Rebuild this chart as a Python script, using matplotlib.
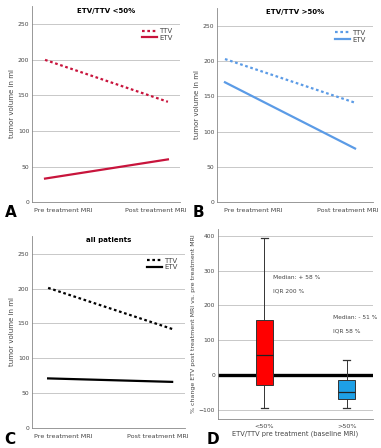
import matplotlib.pyplot as plt

# line panels: pre / post treatment tumor volume (ml)
timepoints = ['Pre treatment MRI', 'Post treatment MRI']
ttv_low = [200, 141]
etv_low = [33, 60]
ttv_high = [203, 141]
etv_high = [170, 76]
ttv_all = [201, 142]
etv_all = [71, 66]

# box panel: % change ETV
groups = ['<50%', '>50%']
box_low = dict(whislo=-95, q1=-30, med=58, q3=158, whishi=395)
box_high = dict(whislo=-95, q1=-68, med=-50, q3=-15, whishi=43)
notes_low = ['Median: + 58 %', 'IQR 200 %']
notes_high = ['Median: - 51 %', 'IQR 58 %']

grid_c = '#c8c8c8'
txt_c = '#444444'

fig = plt.figure(figsize=(3.81, 4.48), dpi=100)


def line_panel(rect, xlim, lab_pos, title, ttv, etv, color, letter, lx, ly):
    ax = fig.add_axes(rect)
    x = [0, 1]
    ax.plot(x, ttv, color=color, lw=1.6, ls=(0, (1.2, 1.2)), label='TTV')
    ax.plot(x, etv, color=color, lw=1.6, label='ETV')
    ax.set_xlim(*xlim)
    ax.set_ylim(0, 276)
    ax.set_xticks([])
    # category labels sit a bit inward of the data points, as in the source
    for xp, lab in zip(lab_pos, timepoints):
        ax.text(xp, -0.045, lab, transform=ax.transAxes, ha='center',
                va='center', fontsize=4.6, color=txt_c)
    ax.set_yticks([0, 50, 100, 150, 200, 250])
    ax.tick_params(axis='y', labelsize=4.3, colors=txt_c, length=0, pad=2)
    ax.yaxis.grid(True, color=grid_c, lw=0.7)
    ax.set_axisbelow(True)
    for s in ['top', 'right']:
        ax.spines[s].set_visible(False)
    for s in ['left', 'bottom']:
        ax.spines[s].set_color('#888888')
        ax.spines[s].set_linewidth(0.6)
    ax.set_ylabel('tumor volume in ml', fontsize=5, color=txt_c, labelpad=2)
    ax.text(0.5, 0.975, title, transform=ax.transAxes, ha='center',
            va='center', fontsize=5, fontweight='bold')
    leg = ax.legend(loc='upper right', bbox_to_anchor=(0.97, 0.9), fontsize=5,
                    frameon=False, handlelength=2.2, handletextpad=0.3,
                    labelspacing=0.1, borderaxespad=0)
    for t in leg.get_texts():
        t.set_color(txt_c)
    fig.text(lx, ly, letter, fontsize=11, fontweight='bold')
    return ax


line_panel([0.084, 0.549, 0.388, 0.438], (-0.106, 1.097), (0.209, 0.838),
           'ETV/TTV <50%', ttv_low, etv_low, '#c8143c', 'A', 0.012, 0.515)
line_panel([0.570, 0.549, 0.409, 0.434], (-0.06, 1.138), (0.231, 0.84),
           'ETV/TTV >50%', ttv_high, etv_high, '#5b9be6', 'B', 0.505, 0.515)
line_panel([0.084, 0.045, 0.402, 0.429], (-0.13, 1.105), (0.203, 0.824),
           'all patients', ttv_all, etv_all, 'black', 'C', 0.012, 0.008)

# panel D
ax = fig.add_axes([0.572, 0.065, 0.407, 0.424])
stats = [dict(box_low, label=groups[0]), dict(box_high, label=groups[1])]
bp = ax.bxp(stats, positions=[1, 2], widths=0.21, showfliers=False,
            patch_artist=True,
            boxprops=dict(edgecolor='#333333', lw=0.7),
            medianprops=dict(color='#222222', lw=0.9),
            whiskerprops=dict(color='#333333', lw=0.7),
            capprops=dict(color='#333333', lw=0.9), capwidths=0.09)
bp['boxes'][0].set_facecolor('#ff0000')
bp['boxes'][1].set_facecolor('#1ea0e6')
ax.axhline(0, color='black', lw=2.4, zorder=1)
ax.set_xlim(0.434, 2.32)
ax.set_ylim(-126, 420)
ax.set_yticks([-100, 0, 100, 200, 300, 400])
ax.yaxis.grid(True, color=grid_c, lw=0.7)
ax.set_axisbelow(True)
ax.tick_params(axis='y', labelsize=4.3, colors=txt_c, length=0, pad=2)
ax.tick_params(axis='x', labelsize=4.6, colors=txt_c, length=0, pad=4)
for s in ['top', 'right']:
    ax.spines[s].set_visible(False)
for s in ['left', 'bottom']:
    ax.spines[s].set_color('#888888')
    ax.spines[s].set_linewidth(0.6)
ax.set_ylabel('% change ETV post treatment MRI vs. pre treatment MRI',
              fontsize=4.5, color=txt_c, labelpad=2)
ax.set_xlabel('ETV/TTV pre treatment (baseline MRI)', fontsize=4.8,
              color=txt_c, labelpad=1)
ax.text(1.10, 279, notes_low[0], fontsize=4.2, color=txt_c, va='center')
ax.text(1.10, 242, notes_low[1], fontsize=4.2, color=txt_c, va='center')
ax.text(1.83, 164, notes_high[0], fontsize=4.2, color=txt_c, va='center')
ax.text(1.83, 127, notes_high[1], fontsize=4.2, color=txt_c, va='center')
fig.text(0.543, 0.008, 'D', fontsize=11, fontweight='bold')

fig.savefig('out.png', dpi=100)
